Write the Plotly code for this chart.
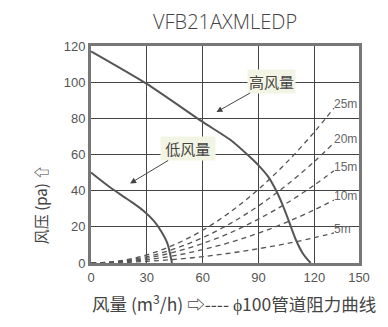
import plotly.graph_objects as go

# Axis ticks (last tick drawn at the border, labelled 150 as in the reference)
x_tickvals = [0, 30, 60, 90, 120, 144]
x_ticktext = ["0", "30", "60", "90", "120", "150"]
y_tickvals = [0, 20, 40, 60, 80, 100, 120]

# Fan curves (airflow m3/h, pressure pa)
high_x = [0, 30, 60, 75, 85, 90, 95, 100, 103, 106, 110, 114, 118]
high_y = [117, 99, 78, 68, 59, 54, 48, 39, 32, 24, 13, 5, 0]
low_x = [0, 10, 20, 28, 34, 38, 41, 42.5, 43.5]
low_y = [50, 42, 35, 29, 23, 17, 11, 5, 0]

# Duct resistance curves (phi100), by duct length
duct_x = [0, 15, 30, 45, 60, 75, 90, 105, 120, 130.5]
duct_names = ["25m", "20m", "15m", "10m", "5m"]
duct_y = {
    "25m": [0, 1.1, 4.5, 10.2, 18.1, 28.3, 40.8, 55.5, 72.4, 85.7],
    "20m": [0, 0.9, 3.5, 7.9, 14.0, 21.9, 31.6, 43.0, 56.1, 66.4],
    "15m": [0, 0.7, 2.7, 6.1, 10.8, 16.8, 24.3, 33.0, 43.1, 51.0],
    "10m": [0, 0.5, 1.8, 4.1, 7.4, 11.5, 16.5, 22.5, 29.4, 34.8],
    "5m":  [0, 0.2, 0.9, 2.0, 3.5, 5.5, 7.9, 10.7, 14.0, 16.6],
}
title_text = "VFB21AXMLEDP"

LINE = "#555555"
TXT = "#444444"
FONT = "Noto Sans CJK SC"
NUMFONT = "Liberation Sans"

fig = go.Figure()
for name in duct_names:
    fig.add_trace(go.Scatter(x=duct_x, y=duct_y[name], mode="lines",
                             line=dict(color=LINE, width=1.3, dash="5px,4px", shape="spline"),
                             hoverinfo="skip", showlegend=False))
    fig.add_annotation(x=duct_x[-1], y=duct_y[name][-1], text=name, showarrow=False,
                       xanchor="left", yanchor="bottom", xshift=-2, yshift=-5,
                       font=dict(family=NUMFONT, size=12, color="#666666"))

fig.add_trace(go.Scatter(x=high_x, y=high_y, mode="lines",
                         line=dict(color=LINE, width=2, shape="spline", smoothing=0.6),
                         showlegend=False))
fig.add_trace(go.Scatter(x=low_x, y=low_y, mode="lines",
                         line=dict(color=LINE, width=2, shape="spline", smoothing=1.0),
                         showlegend=False))

# Callouts
fig.add_annotation(x=67.4, y=83.5, ax=55, ay=-31, text="高风量", showarrow=True,
                   arrowhead=2, arrowsize=1.2, arrowwidth=1, arrowcolor="#444444",
                   bgcolor="#f3f5e4", borderpad=1,
                   font=dict(family=FONT, size=15, color=TXT))
fig.add_annotation(x=21, y=44, ax=58, ay=-35, text=" 低风量 ", showarrow=True,
                   arrowhead=2, arrowsize=1.2, arrowwidth=1, arrowcolor="#444444",
                   bgcolor="#f3f5e4", borderpad=1,
                   font=dict(family=FONT, size=15, color=TXT))

# Title as annotation
fig.add_annotation(xref="paper", yref="paper", x=0.5, y=1.112, text=title_text,
                   showarrow=False, xanchor="center", yanchor="middle",
                   font=dict(family="Open Sans", size=20, color="#444444", weight=300))

# Axis titles
fig.add_annotation(xref="paper", yref="paper", x=-0.19, y=0.267, text="风压 (pa) ⇧",
                   textangle=-90, showarrow=False, xanchor="center", yanchor="middle",
                   font=dict(family=FONT, size=15, color=TXT))
fig.add_annotation(xref="paper", yref="paper", x=0.535, y=-0.184,
                   text="风量 (m<sup>3</sup>/h) ⇨---- ϕ100管道阻力曲线",
                   showarrow=False, xanchor="center", yanchor="middle",
                   font=dict(family=FONT, size=17.5, color=TXT))

axis_common = dict(showgrid=True, gridcolor="#444444", gridwidth=1.3,
                   showline=True, linecolor="#777777", linewidth=3, mirror=True,
                   zeroline=False, ticks="", fixedrange=True,
                   tickfont=dict(family=NUMFONT, size=13, color="#555555"))
fig.update_xaxes(range=[0, 144], tickvals=x_tickvals, ticktext=x_ticktext, **axis_common)
fig.update_yaxes(range=[0, 120], tickvals=y_tickvals, **axis_common)

fig.update_layout(
    width=380, height=319,
    margin=dict(l=83, r=29, t=38, b=64),
    paper_bgcolor="white", plot_bgcolor="white",
    showlegend=False,
)

fig.write_html("out.html")
